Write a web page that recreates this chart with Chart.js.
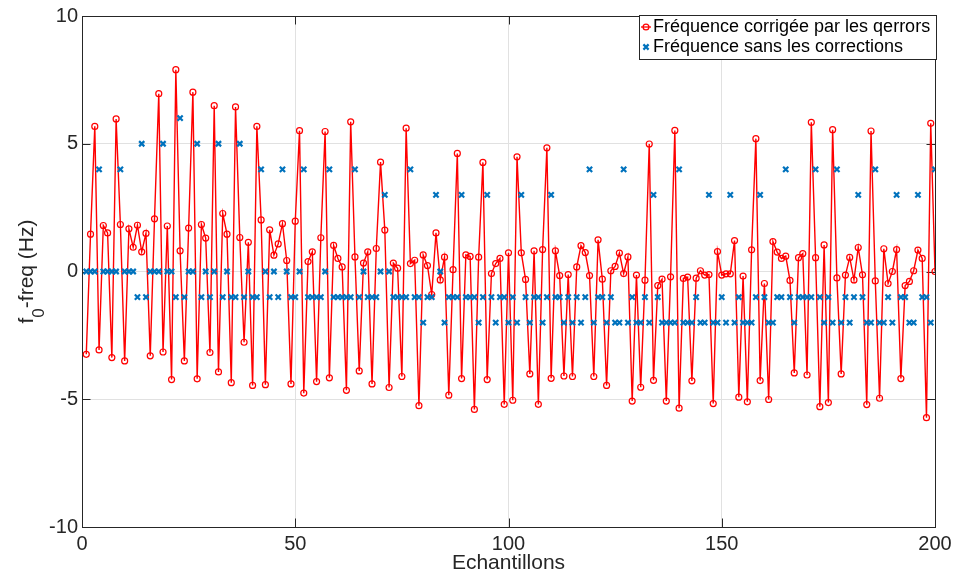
<!DOCTYPE html>
<html>
<head>
<meta charset="utf-8">
<script src="https://cdn.jsdelivr.net/npm/chart.js@4"></script>
<style>
  html, body { margin: 0; padding: 0; background: #fff; }
  #wrap { width: 955px; height: 579px; }
</style>
</head>
<body>
<div id="wrap"><canvas id="freqChart" width="955" height="579"></canvas></div>
<script>
  // Sample values (sample n = index + 1)
  const corrected = [
    -3.24, 1.46, 5.68, -3.07, 1.80, 1.51, -3.37, 5.97, 1.84, -3.50,
    1.67, 0.95, 1.81, 0.77, 1.49, -3.30, 2.06, 6.96, -3.15, 1.78,
    -4.23, 7.90, 0.81, -3.50, 1.70, 7.02, -4.20, 1.84, 1.31, -3.17,
    6.49, -3.93, 2.27, 1.46, -4.35, 6.44, 1.33, -2.77, 1.14, -4.46,
    5.68, 2.02, -4.43, 1.63, 0.64, 1.08, 1.87, 0.43, -4.40, 1.97,
    5.51, -4.76, 0.39, 0.77, -4.31, 1.32, 5.48, -4.16, 1.02, 0.51,
    0.18, -4.65, 5.86, 0.57, -3.89, 0.33, 0.77, -4.40, 0.90, 4.28,
    1.62, -4.54, 0.33, 0.13, -4.11, 5.61, 0.31, 0.44, -5.25, 0.65,
    0.23, -0.90, 1.51, -0.33, 0.56, -4.84, 0.07, 4.62, -4.19, 0.65,
    0.59, -5.40, 0.56, 4.27, -4.23, -0.08, 0.31, 0.51, -5.20, 0.73,
    -5.04, 4.49, 0.73, -0.31, -4.01, 0.81, -5.20, 0.86, 4.84, -4.18,
    0.81, -0.16, -4.09, -0.12, -4.11, 0.18, 1.01, 0.74, -0.16, -4.11,
    1.24, -0.30, -4.46, 0.03, 0.20, 0.72, -0.08, 0.57, -5.07, -0.14,
    -4.53, -0.34, 4.99, -4.26, -0.55, -0.30, -5.07, -0.21, 5.52, -5.35,
    -0.27, -0.22, -4.28, -0.26, 0.03, -0.14, -0.12, -5.17, 0.78, -0.14,
    -0.09, -0.09, 1.21, -4.92, -0.18, -5.10, 0.85, 5.20, -4.27, -0.47,
    -5.01, 1.17, 0.76, 0.51, 0.60, -0.35, -3.97, 0.54, 0.70, -4.05,
    5.84, 0.54, -5.29, 1.04, -5.13, 5.55, -0.25, -4.01, -0.14, 0.55,
    -0.33, 0.94, -0.13, -5.21, 5.50, -0.37, -4.96, 0.89, -0.47, 0.00,
    0.86, -4.19, -0.55, -0.39, 0.03, 0.84, 0.51, -5.72, 5.80, 0.00,
    -5.5
  ];

  const uncorrected = [
    0, 0, 0, 4, 0, 0, 0, 0, 4, 0,
    0, 0, -1, 5, -1, 0, 0, 0, 5, 0,
    0, -1, 6, -1, 0, 0, 5, -1, 0, -1,
    0, 5, -1, 0, -1, -1, 5, -1, 0, -1,
    -1, 4, 0, -1, 0, -1, 4, 0, -1, -1,
    0, 4, -1, -1, -1, -1, 0, 4, -1, -1,
    -1, -1, -1, 4, -1, 0, -1, -1, -1, 0,
    3, 0, -1, -1, -1, -1, 4, -1, -1, -2,
    -1, -1, 3, 0, -2, -1, -1, -1, 3, -1,
    -1, -1, -2, -1, 3, -1, -2, -1, -1, -2,
    -1, -2, 3, -1, -2, -1, -1, -2, -1, 3,
    -1, -1, -2, -1, -2, -1, -2, -1, 4, -2,
    -1, -1, -2, -1, -2, -2, 4, -2, -1, -2,
    -2, -1, -2, 3, -1, -2, -2, -2, -2, 4,
    -2, -2, -2, -1, -2, -2, 3, -2, -2, -1,
    -2, 3, -2, -1, -2, -2, -2, -1, 3, -1,
    -2, -2, -1, -1, 4, -1, -2, -1, -1, -1,
    -1, 4, -1, -2, -1, -2, 4, -2, -1, -2,
    -1, 3, -1, -2, -2, 4, -2, -2, -1, -2,
    3, -1, -1, -2, -2, 3, -1, -1, -2, 4
  ];

  const xTicks = [0, 50, 100, 150, 200];
  const yTicks = [-10, -5, 0, 5, 10];
  const seriesLabels = [
    "Fréquence corrigée par les qerrors",
    "Fréquence sans les corrections"
  ];
  const xTitle = "Echantillons";
  const yTitleParts = ["f", "0", "-freq (Hz)"];

  const FONT = "'Liberation Sans', Arial, Helvetica, sans-serif";
  const INK = "#262626";
  const RED = "#ff0000";
  const BLUE = "#0072bd";

  // MATLAB-like frame: box, inward ticks, y label with subscript, legend
  const matlabFrame = {
    id: "matlabFrame",
    beforeDatasetsDraw(chart) {
      const { ctx, chartArea: a, scales } = chart;
      const tl = 8.5;
      ctx.save();
      ctx.strokeStyle = INK;
      ctx.lineWidth = 1;
      ctx.beginPath();
      xTicks.forEach((v) => {
        const x = Math.round(scales.x.getPixelForValue(v)) + 0.5;
        ctx.moveTo(x, a.bottom);
        ctx.lineTo(x, a.bottom - tl);
        ctx.moveTo(x, a.top);
        ctx.lineTo(x, a.top + tl);
      });
      yTicks.forEach((v) => {
        const y = Math.round(scales.y.getPixelForValue(v)) + 0.5;
        ctx.moveTo(a.left, y);
        ctx.lineTo(a.left + tl, y);
        ctx.moveTo(a.right, y);
        ctx.lineTo(a.right - tl, y);
      });
      ctx.stroke();
      ctx.strokeRect(a.left + 0.5, a.top + 0.5, a.right - a.left, a.bottom - a.top);
      ctx.restore();
    },
    afterDraw(chart) {
      const { ctx, chartArea: a } = chart;
      ctx.save();

      // y axis title with a real subscript
      const mainFont = "21px " + FONT;
      const subFont = "17px " + FONT;
      ctx.font = mainFont;
      const w0 = ctx.measureText(yTitleParts[0]).width;
      const w2 = ctx.measureText(yTitleParts[2]).width;
      ctx.font = subFont;
      const w1 = ctx.measureText(yTitleParts[1]).width;
      const total = w0 + w1 + w2;
      ctx.translate(33, (a.top + a.bottom) / 2);
      ctx.rotate(-Math.PI / 2);
      ctx.fillStyle = INK;
      ctx.textBaseline = "alphabetic";
      ctx.textAlign = "left";
      let x0 = -total / 2;
      ctx.font = mainFont;
      ctx.fillText(yTitleParts[0], x0, 0);
      ctx.font = subFont;
      ctx.fillText(yTitleParts[1], x0 + w0, 11);
      ctx.font = mainFont;
      ctx.fillText(yTitleParts[2], x0 + w0 + w1, 0);
      ctx.restore();

      // legend box
      const box = { left: 639, top: 15, right: 936, bottom: 59 };
      ctx.save();
      ctx.fillStyle = "#fff";
      ctx.fillRect(box.left, box.top, box.right - box.left, box.bottom - box.top);
      ctx.strokeStyle = INK;
      ctx.lineWidth = 1;
      ctx.strokeRect(box.left + 0.5, box.top + 0.5, box.right - box.left, box.bottom - box.top);

      const rows = [27, 47];
      const mx = 646;
      // red line + circle
      ctx.strokeStyle = RED;
      ctx.lineWidth = 1.3;
      ctx.beginPath();
      ctx.moveTo(mx - 5, rows[0]);
      ctx.lineTo(mx + 5, rows[0]);
      ctx.stroke();
      ctx.beginPath();
      ctx.arc(mx, rows[0], 2.9, 0, Math.PI * 2);
      ctx.stroke();
      // blue cross
      ctx.strokeStyle = BLUE;
      ctx.lineWidth = 2.2;
      ctx.beginPath();
      ctx.moveTo(mx - 2.6, rows[1] - 2.6);
      ctx.lineTo(mx + 2.6, rows[1] + 2.6);
      ctx.moveTo(mx + 2.6, rows[1] - 2.6);
      ctx.lineTo(mx - 2.6, rows[1] + 2.6);
      ctx.stroke();

      ctx.fillStyle = "#000";
      ctx.font = "18px " + FONT;
      ctx.textBaseline = "middle";
      ctx.textAlign = "left";
      seriesLabels.forEach((label, i) => {
        ctx.fillText(label, 653, rows[i]);
      });
      ctx.restore();
    }
  };

  const ctx = document.getElementById("freqChart");

  new Chart(ctx, {
    type: "line",
    data: {
      datasets: [
        {
          label: seriesLabels[0],
          data: corrected.map((v, i) => ({ x: i + 1, y: v })),
          borderColor: RED,
          borderWidth: 1.4,
          pointStyle: "circle",
          pointRadius: 3,
          pointBorderWidth: 1.2,
          pointBorderColor: RED,
          pointBackgroundColor: "rgba(0,0,0,0)",
          tension: 0,
          order: 1
        },
        {
          label: seriesLabels[1],
          data: uncorrected.map((v, i) => ({ x: i + 1, y: v })),
          showLine: false,
          borderColor: BLUE,
          pointStyle: "crossRot",
          pointRadius: 3.7,
          pointBorderWidth: 2.2,
          pointBorderColor: BLUE,
          order: 0
        }
      ]
    },
    options: {
      responsive: false,
      animation: false,
      layout: {
        padding: { left: 0, top: 16, right: 20, bottom: 0 }
      },
      plugins: {
        legend: { display: false },
        tooltip: { enabled: false }
      },
      scales: {
        x: {
          type: "linear",
          min: 0,
          max: 200,
          afterBuildTicks: (scale) => {
            scale.ticks = xTicks.map((v) => ({ value: v }));
          },
          afterFit: (scale) => {
            scale.height = 52;
            scale.paddingLeft = 0;
            scale.paddingRight = 0;
          },
          grid: {
            color: "#e1e1e1",
            lineWidth: 1,
            drawTicks: false
          },
          border: { display: false },
          ticks: {
            color: INK,
            padding: 5,
            maxRotation: 0,
            font: { family: FONT, size: 20 }
          },
          title: {
            display: true,
            text: xTitle,
            color: INK,
            padding: { top: 0, bottom: 3 },
            font: { family: FONT, size: 21 }
          }
        },
        y: {
          type: "linear",
          min: -10,
          max: 10,
          afterBuildTicks: (scale) => {
            scale.ticks = yTicks.map((v) => ({ value: v }));
          },
          afterFit: (scale) => {
            scale.width = 82;
            scale.paddingTop = 0;
            scale.paddingBottom = 0;
          },
          grid: {
            color: "#e1e1e1",
            lineWidth: 1,
            drawTicks: false
          },
          border: { display: false },
          ticks: {
            color: INK,
            padding: 4,
            font: { family: FONT, size: 20 }
          }
        }
      }
    },
    plugins: [matlabFrame]
  });
</script>
</body>
</html>
